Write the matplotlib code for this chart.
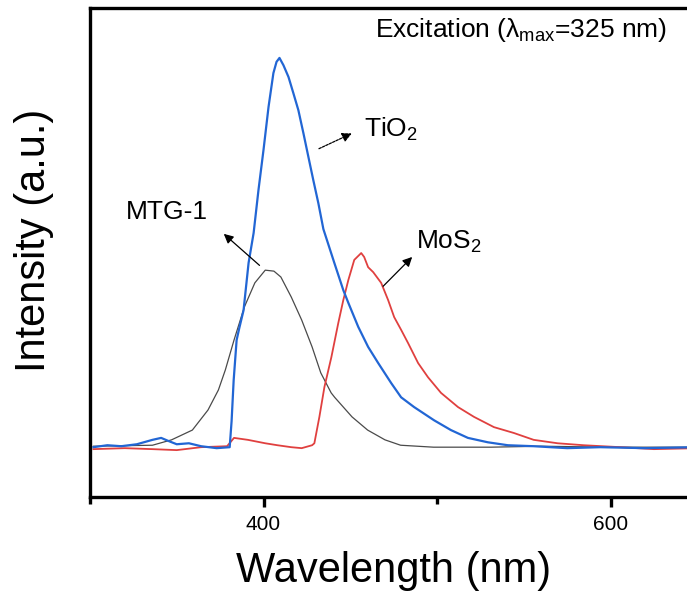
import matplotlib
matplotlib.use("Agg")
import matplotlib.pyplot as plt

plt.rcParams["font.family"] = ["Liberation Sans", "DejaVu Sans"]
plt.rcParams["mathtext.fontset"] = "custom"
plt.rcParams["mathtext.rm"] = "Liberation Sans"
plt.rcParams["mathtext.it"] = "Liberation Sans"

# PL spectra (wavelength in nm, intensity in a.u.)
mtg_wl = [302, 336, 347, 359, 368, 374, 378, 383, 389, 395, 401, 406, 410,
          416, 422, 428, 433, 439, 441, 451, 460, 470, 479, 498, 531, 560,
          600, 650]
mtg_int = [0.104, 0.106, 0.117, 0.137, 0.178, 0.219, 0.260, 0.321, 0.389,
           0.438, 0.464, 0.462, 0.450, 0.409, 0.362, 0.307, 0.254, 0.213,
           0.204, 0.164, 0.137, 0.117, 0.106, 0.102, 0.102, 0.104, 0.102,
           0.102]

tio2_wl = [302, 310, 318, 327, 336, 341, 345, 350, 357, 364, 373, 380.5,
           381.6, 382.8, 384.5, 386, 388.5, 391.4, 394.3, 397.1, 400, 402.9,
           405.7, 407.5, 409.2, 411.5, 414.4, 417.2, 420.1, 423, 425.9,
           428.7, 431.6, 434.5, 440.8, 446, 448.9, 454.6, 460.3, 466.1,
           473.6, 479.3, 486.8, 498.3, 508, 517.8, 529.3, 540.8, 555.7,
           575, 594, 620, 650]
tio2_int = [0.102, 0.106, 0.104, 0.108, 0.117, 0.121, 0.115, 0.108, 0.110,
            0.104, 0.100, 0.102, 0.155, 0.239, 0.321, 0.345, 0.382, 0.479,
            0.540, 0.628, 0.710, 0.798, 0.867, 0.890, 0.898, 0.883, 0.859,
            0.826, 0.791, 0.744, 0.695, 0.648, 0.601, 0.548, 0.479, 0.423,
            0.397, 0.348, 0.307, 0.274, 0.233, 0.204, 0.184, 0.157, 0.137,
            0.121, 0.112, 0.106, 0.104, 0.100, 0.102, 0.100, 0.102]

mos2_wl = [302, 320, 336, 350, 364, 379, 383, 391, 401, 408, 416, 422,
           428, 429.3, 432.2, 435.1, 439.1, 443.1, 446, 448.9, 452.3, 456.3,
           458, 460.3, 463.2, 467.8, 471.8, 475.3, 479.3, 483.3, 489.1,
           494.8, 502.3, 512.1, 521.3, 532.8, 544.3, 555.7, 569.5, 584.5,
           605.7, 625, 650]
mos2_int = [0.098, 0.100, 0.098, 0.096, 0.102, 0.104, 0.121, 0.117, 0.110,
            0.106, 0.102, 0.100, 0.106, 0.110, 0.164, 0.225, 0.286, 0.356,
            0.403, 0.444, 0.485, 0.499, 0.491, 0.470, 0.460, 0.438, 0.403,
            0.368, 0.342, 0.315, 0.274, 0.245, 0.213, 0.184, 0.164, 0.143,
            0.131, 0.117, 0.110, 0.106, 0.102, 0.098, 0.100]

fig = plt.figure(figsize=(6.87, 5.96), dpi=100)
ax = fig.add_axes([0.131, 0.166, 0.884, 0.8205])

ax.plot(mtg_wl, mtg_int, color="#4a4a4a", lw=0.9)
ax.plot(mos2_wl, mos2_int, color="#e0403f", lw=1.3)
ax.plot(tio2_wl, tio2_int, color="#2266d4", lw=1.6)

ax.set_xlim(301, 650)
ax.set_ylim(0, 1)

for s in ax.spines.values():
    s.set_linewidth(2.4)
ax.spines["right"].set_visible(False)

ax.set_xticks([400, 600])
ax.set_xticks([300, 500], minor=True)
ax.set_yticks([])
ax.tick_params(axis="x", which="major", direction="out", length=7, width=2.4,
               labelsize=15, pad=6)
ax.tick_params(axis="x", which="minor", direction="out", length=5, width=2.4)

ax.set_xlabel("Wavelength (nm)", fontsize=30, labelpad=12)
ax.set_ylabel("Intensity (a.u.)", fontsize=30)
ax.yaxis.set_label_coords(-0.06, 0.525)

ax.text(0.47, 0.955, r"Excitation ($\mathrm{\lambda_{max}}$=325 nm)",
        transform=ax.transAxes, fontsize=19, va="center", ha="left")

arrow = dict(arrowstyle="-|>", color="black", lw=0.9, mutation_scale=14)
ax.annotate("", xy=(452.3, 0.746), xytext=(430.5, 0.710),
            arrowprops=dict(arrowstyle="-|>", color="black", lw=0.9,
                            mutation_scale=14, linestyle=(0, (2, 1))))
ax.text(458, 0.752, "TiO$_2$", fontsize=19, va="center", ha="left")

ax.annotate("", xy=(375.9, 0.542), xytext=(398.9, 0.470), arrowprops=arrow)
ax.text(344.3, 0.583, "MTG-1", fontsize=19, va="center", ha="center")

ax.annotate("", xy=(486.8, 0.495), xytext=(467.8, 0.427), arrowprops=arrow)
ax.text(488, 0.521, "MoS$_2$", fontsize=19, va="center", ha="left")

fig.savefig("out.png", dpi=100)
